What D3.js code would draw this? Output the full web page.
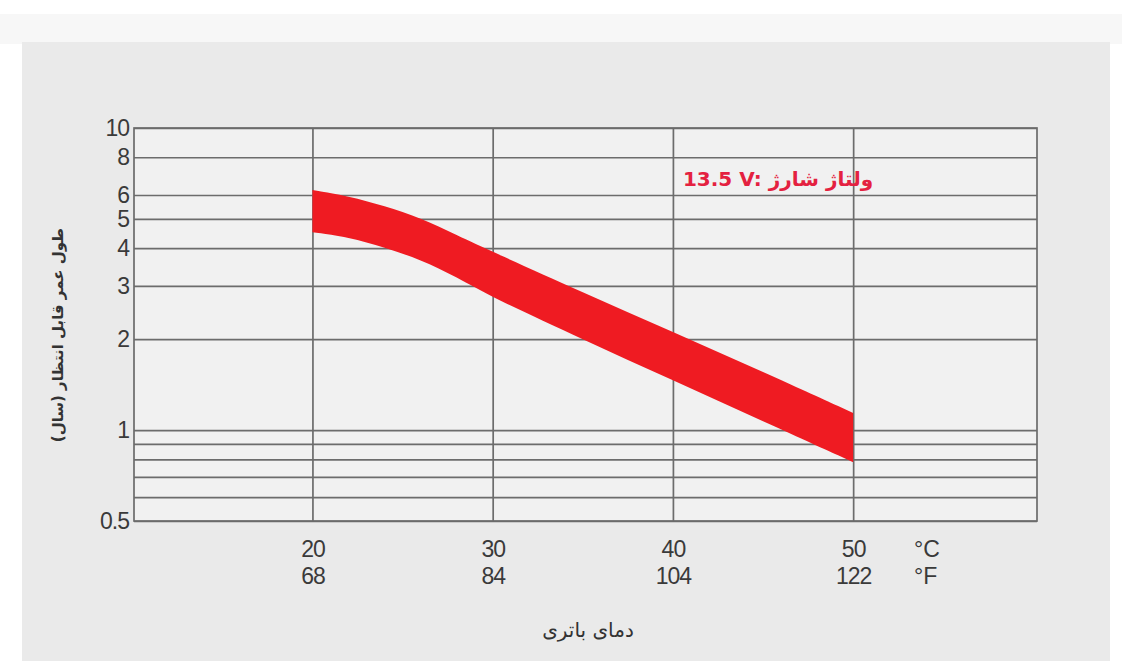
<!DOCTYPE html>
<html><head><meta charset="utf-8">
<script src="https://cdn.jsdelivr.net/npm/d3@7"></script>
<style>
html,body{margin:0;padding:0;background:#fff;}
svg{display:block;}
</style></head>
<body>
<svg id="chart" width="1122" height="661"></svg>
<script>
const tempC = [20, 22, 24, 26, 28, 30, 35, 40, 45, 50];
const lifeUpper = [6.23, 5.95, 5.52, 5.04, 4.42, 3.89, 2.86, 2.11, 1.56, 1.14];
const lifeLower = [4.52, 4.36, 4.02, 3.67, 3.21, 2.74, 2.0, 1.46, 1.07, 0.783];
const xTicksC = [20, 30, 40, 50];
const xTicksF = ["68", "84", "104", "122"];
const yTickLabels = [10, 8, 6, 5, 4, 3, 2, 1, 0.5];
const yGridValues = [10, 8, 6, 5, 4, 3, 2, 1, 0.9, 0.8, 0.7, 0.6, 0.5];
const yTitle = "طول عمر قابل انتظار (سال)";
const xTitle = "دمای باتری";
const note = "13.5 V: ولتاژ شارژ";

const svg = d3.select("#chart");
const L = 134, R = 1037, T = 128, B = 521;
const W = R - L, H = B - T;

// panel
svg.append("rect").attr("x", 0).attr("y", 14).attr("width", 1122).attr("height", 30).attr("fill", "#f7f7f7");
svg.append("rect").attr("x", 22).attr("y", 42).attr("width", 1088).attr("height", 619).attr("fill", "#eaeaea");

const x = d3.scaleLinear().domain([10.1, 60.2]).range([L, R]);
const y = d3.scaleLog().domain([0.5, 10]).range([B, T]);

const g = svg.append("g");
g.append("rect").attr("x", L).attr("y", T).attr("width", W).attr("height", H).attr("fill", "#f1f1f1");

// horizontal grid
const gy = g.append("g").attr("transform", `translate(${L},0)`)
  .call(d3.axisLeft(y).tickValues(yGridValues).tickSize(-W).tickFormat(""));
gy.select(".domain").remove();
gy.selectAll("line").attr("stroke", "#6c6c6c").attr("stroke-width", 1.7);

// vertical grid
const gx = g.append("g").attr("transform", `translate(0,${B})`)
  .call(d3.axisBottom(x).tickValues(xTicksC).tickSize(-H).tickFormat(""));
gx.select(".domain").remove();
gx.selectAll("line").attr("stroke", "#6c6c6c").attr("stroke-width", 1.7);

// frame
g.append("rect").attr("x", L).attr("y", T).attr("width", W).attr("height", H)
  .attr("fill", "none").attr("stroke", "#6c6c6c").attr("stroke-width", 1.7);

// band
const data = tempC.map((t, i) => ({t, hi: lifeUpper[i], lo: lifeLower[i]}));
const area = d3.area().x(d => x(d.t)).y0(d => y(d.lo)).y1(d => y(d.hi)).curve(d3.curveBasis);
g.append("path").datum(data).attr("d", area).attr("fill", "#ef1b22");

// y labels
const yl = svg.append("g").attr("transform", `translate(${L - 5},0)`)
  .call(d3.axisLeft(y).tickValues(yTickLabels).tickSize(0).tickFormat(d => String(d)));
yl.select(".domain").remove();
yl.selectAll("text").attr("font-family", "Liberation Sans, Arial, sans-serif")
  .attr("font-size", 23).attr("fill", "#3a3a3a").attr("letter-spacing", -1).attr("x", 0);

// x labels (C)
const xl1 = svg.append("g").attr("transform", `translate(0,${B})`)
  .call(d3.axisBottom(x).tickValues(xTicksC).tickSize(0).tickFormat(d => String(d)));
xl1.select(".domain").remove();
xl1.selectAll("text").attr("font-family", "Liberation Sans, Arial, sans-serif")
  .attr("font-size", 23).attr("fill", "#3a3a3a").attr("letter-spacing", -1)
  .attr("y", 36).attr("dy", null);

// x labels (F)
const xl2 = svg.append("g").attr("transform", `translate(0,${B})`)
  .call(d3.axisBottom(x).tickValues(xTicksC).tickSize(0).tickFormat((d, i) => xTicksF[i]));
xl2.select(".domain").remove();
xl2.selectAll("text").attr("font-family", "Liberation Sans, Arial, sans-serif")
  .attr("font-size", 23).attr("fill", "#3a3a3a").attr("letter-spacing", -1)
  .attr("y", 63).attr("dy", null);

// units
svg.append("text").attr("x", 914).attr("y", B + 36).text("°C")
  .attr("font-family", "Liberation Sans, Arial, sans-serif").attr("font-size", 23).attr("fill", "#3a3a3a");
svg.append("text").attr("x", 914).attr("y", B + 63).text("°F")
  .attr("font-family", "Liberation Sans, Arial, sans-serif").attr("font-size", 23).attr("fill", "#3a3a3a");

// titles
svg.append("text").attr("x", 588).attr("y", 637).attr("text-anchor", "middle").text(xTitle)
  .attr("font-family", "DejaVu Sans, sans-serif").attr("font-size", 20).attr("fill", "#333");
svg.append("text").attr("transform", "translate(63,335) rotate(-90)").attr("text-anchor", "middle")
  .text(yTitle).attr("font-family", "DejaVu Sans, sans-serif").attr("font-size", 15)
  .attr("font-weight", "bold").attr("fill", "#333");

// annotation
svg.append("text").attr("x", 778).attr("y", 186).attr("text-anchor", "middle").text(note)
  .attr("font-family", "DejaVu Sans, sans-serif").attr("font-size", 20).attr("font-weight", "bold")
  .attr("fill", "#e42140").attr("direction", "ltr");
</script>
</body></html>
